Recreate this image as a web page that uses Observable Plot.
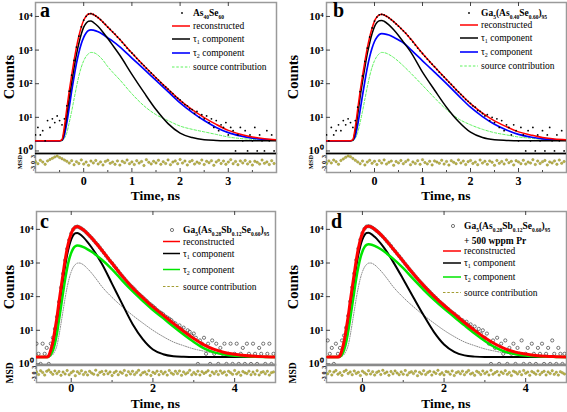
<!DOCTYPE html>
<html><head><meta charset="utf-8">
<script src="https://cdn.jsdelivr.net/npm/d3@7"></script>
<script src="https://cdn.jsdelivr.net/npm/@observablehq/plot@0.6"></script>
<style>
html,body{margin:0;padding:0;background:#fff;}
#root{position:relative;width:567px;height:412px;overflow:hidden;background:#fff;}
#root svg{position:absolute;}
</style></head><body><div id="root"></div>
<script>
// ---------- axis / tick values ----------
const yTickValues = [1, 10, 100, 1000, 10000];
const residTickValues = [-3, 0, 3];
const xMajorAB = [0, 1, 2, 3], xMinorAB = [-0.5, 0.5, 1.5, 2.5, 3.5];
const xMajorCD = [0, 2, 4], xMinorCD = [1, 3];
const supDigits = ["⁰", "¹", "²", "³", "⁴"];

// ---------- labels ----------
const sampleA = "As_{40}Se_{60}";
const sampleB = "Ga_{5}(As_{0.40}Se_{0.60})_{95}";
const sampleC = "Ga_{5}(As_{0.28}Sb_{0.12}Se_{0.60})_{95}";
const sampleD = "Ga_{5}(As_{0.28}Sb_{0.12}Se_{0.60})_{95}";
const dopantD = "+ 500 wppm Pr";
const seriesLabels = ["reconstructed", "τ_{1} component", "τ_{2} component", "source contribution"];

// ---------- model-curve time grids (ns) ----------
const curveTimesAB = [-1,-0.6,-0.5,-0.45,-0.4,-0.35,-0.3,-0.25,-0.2,-0.15,-0.1,-0.05,0,0.05,0.1,0.15,0.2,0.3,0.4,0.5,0.6,0.75,1,1.25,1.5,1.75,2,2.25,2.5,2.75,3,3.25,3.5,3.75,4];
const curveTimesCD = [-0.85,-0.6,-0.55,-0.5,-0.45,-0.4,-0.35,-0.3,-0.25,-0.2,-0.15,-0.1,-0.05,0,0.05,0.1,0.15,0.2,0.3,0.4,0.5,0.6,0.75,1,1.25,1.5,1.75,2,2.25,2.5,2.75,3,3.25,3.5,3.75,4,4.25,4.5,4.75,5];

// ---------- panel a curves (counts) ----------
const tau1A = [2,2,2,2.1,4,12,38,110,300,750,1600,3000,4800,6300,7200,7300,6700,5000,3400,2200,1400,700,190,55,17,6.5,3.4,2.5,2.15,2.05,2,2,2,2,2];
const tau2A = [2,2,2,2.1,3,7,20,60,160,400,850,1550,2400,3200,3800,4000,3900,3500,2900,2300,1850,1250,580,270,125,58,27,14,8,5,3.5,2.8,2.4,2.2,2.1];
const srcA  = [2,2,2,2,2.4,3.5,7,15,35,80,170,310,480,650,780,850,840,700,500,320,220,130,50,22,12,8,5.5,4.4,3.7,3.1,2.6,2.35,2.2,2.1,2.05];
const reconA = [2,2,2,2.2,5.4,18.5,61,181,491,1226,2616,4856,7676,10146,11776,12146,11436,9196,6796,4816,3466,2076,816,343,150,68.5,31.9,16.9,9.85,6.15,4.1,3.15,2.6,2.3,2.15];

// ---------- panel b curves ----------
const tau1B = [2,2,2,2.1,4,12,40,115,310,780,1650,3100,5000,6600,7500,7600,7200,5600,4000,2700,1750,900,220,65,20,7.5,3.6,2.5,2.15,2.05,2,2,2,2,2];
const tau2B = [2,2,2,2.1,2.8,6,16,45,120,300,640,1150,1800,2400,2900,3100,3050,2800,2400,2000,1650,1050,480,220,100,44,20,10.5,6.2,4.2,3.1,2.6,2.3,2.15,2.1];
const srcB  = [2,2,2,2,2.4,3.5,7,15,35,80,170,310,480,650,780,850,840,740,600,460,340,210,90,38,17,9,6,4.4,3.5,3,2.6,2.4,2.2,2.1,2.05];
const reconB = [2,2,2,2.2,5.2,17.5,59,171,461,1156,2456,4556,7276,9646,11176,11546,11086,9136,6996,5156,3736,2156,786,319,133,56.5,25.6,13.4,7.85,5.25,3.7,3.0,2.5,2.25,2.15];

// ---------- panel c curves ----------
const tau1C = [1.6,1.6,1.7,2.2,3.3,7,16,45,120,310,800,1750,3200,5000,6700,7700,7800,7300,5800,4200,2900,1900,950,240,60,15.5,5.5,2.7,1.95,1.7,1.63,1.6,1.6,1.6,1.6,1.6,1.6,1.6,1.6,1.6];
const tau2C = [1.6,1.6,1.65,1.9,2.5,4,8,20,50,130,320,700,1300,2000,2700,3150,3300,3250,2950,2550,2150,1750,1250,650,300,145,75,40,23,13,7.5,4.5,2.9,2.2,1.9,1.75,1.68,1.64,1.62,1.6];
const srcC  = [1.6,1.6,1.6,1.7,1.9,2.4,3.5,7,16,38,90,190,350,550,750,900,990,1000,880,680,500,350,200,95,50,28,16.5,10,6.5,4.5,3.5,2.8,2.4,2.1,1.9,1.8,1.7,1.65,1.62,1.6];
const reconC = [1.6,1.6,1.75,2.6,4.5,10.2,24,69,183,475,1207,2637,4847,7547,10147,11747,12087,11547,9627,7427,5547,4000,2400,982,407,185,94,49.5,28.3,16,9.4,5.7,3.7,2.7,2.2,1.95,1.78,1.69,1.64,1.6];

// ---------- panel d curves ----------
const tau1D = [1.6,1.6,1.7,2.2,3.3,7,16,45,120,310,800,1750,3200,5000,6700,7800,7900,7500,6000,4500,3200,2150,1100,330,95,28,9,3.8,2.3,1.8,1.65,1.6,1.6,1.6,1.6,1.6,1.6,1.6,1.6,1.6];
const tau2D = [1.6,1.6,1.65,1.9,2.6,4.3,9,22,55,140,350,760,1420,2200,2950,3450,3600,3550,3250,2800,2350,1900,1350,700,330,160,82,44,25,14,8,4.8,3.1,2.3,1.95,1.78,1.69,1.64,1.62,1.6];
const srcD  = [1.6,1.6,1.6,1.7,1.9,2.4,3.5,7,16,38,90,190,350,550,750,900,990,1000,880,680,500,350,200,95,50,28,16.5,10,6.5,4.5,3.5,2.8,2.4,2.1,1.9,1.8,1.7,1.65,1.62,1.6];
const reconD = [1.6,1.6,1.75,2.6,4.6,10.5,25.3,70.8,188,485,1237,2697,4967,7747,10397,12147,12487,12047,10127,7977,6047,4397,2647,1122,472,213,104,54.6,30.6,17.1,9.95,6.0,3.9,2.8,2.25,1.98,1.79,1.69,1.64,1.6];

// ---------- measured counts (channels every 0.05 ns) ----------
const channelStep = 0.05;
const startAB = -1, startCD = -0.85;
const countsA = [3,5,3,4,2,8,5,9,7,11,8,6,9,22,60,180,490,1230,2600,4900,
 7700,10100,11800,12100,11500,10400,9200,8000,6800,5800,4800,4100,3500,3000,2450,2080,1700,1400,1150,960,
 820,690,570,480,400,345,290,245,208,178,150,128,108,92,80,69,58,51,42,37,
 33,28,24,22,18,17,13,15,10,12,9,11,7,9,5,8,4,6,5,7,
 3,5,4,1,3,5,2,4,1,3,2,5,1,3,2,1,4,2,3,1];
const countsB = [3,2,5,3,4,6,4,8,6,9,7,5,8,20,58,170,460,1150,2450,4550,
 7300,9600,11200,11500,11100,10100,9100,8000,7000,6000,5150,4400,3750,3200,2650,2150,1750,1420,1150,950,
 790,650,540,450,380,320,265,220,185,158,133,112,95,80,66,57,48,41,34,30,
 26,22,20,16,15,13,11,12,8,10,7,9,5,8,4,6,5,3,6,4,
 2,5,3,1,4,2,5,1,3,2,4,1,3,5,2,1,3,2,4,1];
const countsC = [4,2,1,4,2,3,1,4,6,11,25,70,185,480,1200,2650,4850,7550,10100,11700,
 12100,11500,10600,9600,8500,7400,6400,5550,4750,4000,3450,2900,2400,2000,1650,1380,1160,990,830,700,
 580,480,410,345,290,250,215,190,165,140,122,108,96,84,74,64,58,52,46,40,
 36,33,30,26,24,22,20,17,16,13,14,11,12,8,10,9,7,8,6,1,
 5,4,6,2,4,1,5,2,4,1,3,2,4,1,2,4,1,2,4,1,
 2,3,1,4,2,1,4,2,1,3,2,4,1,2,4,1,2];
const countsD = [5,2,3,1,4,2,3,5,7,12,27,72,190,490,1240,2700,4950,7750,10400,12100,
 12500,12000,11100,10100,9000,7950,6950,6050,5200,4400,3800,3200,2650,2250,1900,1600,1340,1120,940,790,
 660,560,475,400,340,290,250,215,185,160,140,120,105,92,80,70,62,55,48,43,
 38,34,31,27,25,21,20,17,18,14,15,11,13,9,11,8,10,6,8,4,
 1,5,3,6,1,4,2,5,1,3,2,4,1,3,2,5,1,2,3,1,
 4,2,1,3,2,4,1,2,3,1,5,2,1,3,2,1,2];

// ---------- residuals (MSD) on the same channels ----------
const residA = [0.4,-0.6,1.1,0.2,-0.9,0.8,1.5,2.1,2.8,3.2,2.5,1.9,1.2,0.6,-0.3,0.9,-1.1,0.4,-0.5,1.3,-0.8,0.2,-1.4,0.7,-0.2,1.0,-0.7,0.3,-1.2,0.5,1.1,-0.4,0.2,-0.9,0.8,-1.3,0.6,-0.1,1.2,-0.6,0.3,-1.0,0.9,-0.3,0.5,-1.5,1.4,0.1,-0.7,0.6,-0.2,1.1,-0.9,0.4,-0.5,1.3,-1.1,0.2,0.8,-0.6,1.5,-0.3,0.7,-1.2,0.4,1.0,-0.8,0.2,-0.4,1.2,-1.0,0.6,-0.1,0.9,-1.4,0.3,1.1,-0.5,0.7,-0.9,0.2,1.4,-0.6,0.5,-1.1,0.8,-0.2,1.0,-0.7,0.4,-1.3,0.6,0.1,-0.8,1.2,-0.4,0.3,-1.0,0.9,-0.5];
const residB = [-0.5,0.8,-0.2,1.2,0.4,-0.9,1.0,1.8,2.6,3.3,2.9,2.0,1.1,0.3,-0.6,0.7,-1.2,0.2,1.1,-0.4,0.6,-1.0,0.9,-0.3,1.3,-0.8,0.1,0.7,-1.4,0.5,-0.2,1.0,-0.6,0.4,1.2,-1.1,0.3,-0.5,0.9,-0.9,1.4,0.0,-0.7,0.6,-1.2,0.8,0.2,-0.4,1.1,-0.8,0.5,-1.3,0.9,0.1,-0.6,1.3,-0.2,0.7,-1.0,0.4,1.0,-0.5,0.2,-1.1,1.2,-0.3,0.6,-0.9,0.8,0.1,-1.4,1.0,-0.4,0.5,-0.7,1.3,-0.1,0.6,-1.2,0.9,0.3,-0.6,1.1,-0.8,0.2,-0.3,1.4,-1.0,0.7,-0.5,0.4,1.0,-1.2,0.3,-0.2,0.8,-0.9,1.2,-0.4,0.5];
const residC = [0.6,-0.8,1.2,0.3,-1.1,0.9,1.6,0.4,-0.7,1.1,-0.3,0.8,-1.2,0.5,-0.5,1.3,-0.9,0.2,1.0,-1.4,0.7,-0.2,1.2,-0.8,0.4,-1.0,0.9,0.0,-0.6,1.5,-1.1,0.3,0.8,-0.7,1.1,-0.4,0.6,-1.3,0.2,1.0,-0.9,0.5,-0.1,1.3,-1.2,0.7,-0.5,0.9,-0.8,0.3,1.4,-1.0,0.1,0.6,-0.6,1.2,-1.3,0.4,-0.2,1.0,-0.9,0.8,-0.4,0.5,-1.1,1.3,0.0,-0.7,0.9,-0.3,1.1,-1.2,0.6,-0.5,0.2,1.4,-0.9,0.3,-0.6,1.0,-1.0,0.7,-0.2,0.4,1.2,-1.3,0.5,-0.4,0.8,-0.8,1.1,-0.1,0.6,-1.1,0.9,0.2,-0.7,1.3,-0.5,0.4,-1.2,0.8,0.1,-0.3,1.0,-0.9,0.5,-0.6,1.2,-1.0,0.3,0.7,-0.4,0.9,-1.1,0.2,0.6];
const residD = [-0.4,0.9,-1.0,0.5,1.3,-0.6,0.2,-1.2,0.8,1.5,-0.3,0.6,-0.9,1.1,-0.2,0.4,-1.3,1.0,0.1,-0.7,1.2,-0.5,0.7,-1.1,0.3,0.9,-0.8,1.4,-0.1,0.5,-1.2,0.8,-0.4,1.1,0.0,-0.9,0.6,-0.6,1.3,-1.0,0.2,0.7,-0.3,1.0,-1.4,0.4,-0.5,1.2,-0.8,0.3,0.9,-1.1,0.6,-0.2,1.4,-0.7,0.1,-1.0,0.8,0.5,-0.6,1.1,-1.3,0.2,0.7,-0.4,1.0,-0.9,0.4,1.3,-0.5,0.0,-1.2,0.9,0.3,-0.8,1.1,-0.3,0.6,-1.0,1.4,-0.6,0.2,0.8,-1.1,0.5,-0.2,1.2,-0.7,0.3,-1.3,1.0,0.4,-0.5,0.7,-0.9,1.3,-0.1,0.5,-1.2,0.8,0.2,-0.6,1.1,-0.8,0.3,0.9,-1.0,0.6,-0.3,1.2,-0.7,0.4,-1.1,0.7,0.1,-0.5];

// ---------- layout / styling (not data) ----------
const FONT = "'Liberation Serif','Times New Roman',serif";
const swAB = [{color:"#ff0000",width:1.5},{color:"#000",width:1.5},{color:"#0000ff",width:1.6},{color:"#5cf25c",width:1,dash:"2.5,1.8"}];
const swCD = [{color:"#ff0000",width:1.5},{color:"#000",width:1.5},{color:"#00e600",width:1.5},{color:"#a39d33",width:1.1,dash:"2.5,1.8"}];

const panels = [
 {letter:"a", kind:"ab", svgLeft:0, frameL:35, frameR:276, mainTop:2, mainBot:153, resBot:172, xDomain:[-1,4], yDomain:[0.84,26000],
  xMajor:xMajorAB, xMinor:xMinorAB, grid:curveTimesAB, tau1:tau1A, tau2:tau2A, src:srcA, recon:reconA, start:startAB, counts:countsA, resid:residA,
  sample:sampleA, extra:null, sw:swAB, tau2Color:"#0000ff", xPad:4,
  lg:{x0:172,x1:190,tx:193,mx:182,rows:[16,29,42,56,70]},
  letterPos:[40,17], countsPos:[9,77], timePos:[155.5,200], msdPos:[20,162], msdSize:6.5},
 {letter:"b", kind:"ab", svgLeft:283, frameL:326, frameR:566, mainTop:2, mainBot:153, resBot:172, xDomain:[-1,4], yDomain:[0.84,26000],
  xMajor:xMajorAB, xMinor:xMinorAB, grid:curveTimesAB, tau1:tau1B, tau2:tau2B, src:srcB, recon:reconB, start:startAB, counts:countsB, resid:residB,
  sample:sampleB, extra:null, sw:swAB, tau2Color:"#0000ff", xPad:4,
  lg:{x0:460,x1:478,tx:481,mx:469,rows:[16,28,41,55,69]},
  letterPos:[333,17], countsPos:[293,77], timePos:[446,200], msdPos:[311,162], msdSize:6.5},
 {letter:"c", kind:"cd", svgLeft:0, frameL:36, frameR:275, mainTop:210.5, mainBot:364, resBot:382, xDomain:[-0.85,5], yDomain:[0.93,34000],
  xMajor:xMajorCD, xMinor:xMinorCD, grid:curveTimesCD, tau1:tau1C, tau2:tau2C, src:srcC, recon:reconC, start:startCD, counts:countsC, resid:residC,
  sample:sampleC, extra:null, sw:swCD, tau2Color:"#00e600", xPad:1,
  lg:{x0:163,x1:180,tx:183,mx:172,rows:[233,244.5,256.5,272.5,289.5]},
  letterPos:[40,228], countsPos:[9,287], timePos:[155.5,408], msdPos:[10,373], msdSize:9.5},
 {letter:"d", kind:"cd", svgLeft:283, frameL:326, frameR:566, mainTop:210.5, mainBot:364, resBot:382, xDomain:[-0.88,5], yDomain:[0.93,34000],
  xMajor:xMajorCD, xMinor:xMinorCD, grid:curveTimesCD, tau1:tau1D, tau2:tau2D, src:srcD, recon:reconD, start:startCD, counts:countsD, resid:residD,
  sample:sampleD, extra:dopantD, sw:swCD, tau2Color:"#00e600", xPad:1,
  lg:{x0:443,x1:461,tx:464,mx:453,rows:[229,243.5,254,266,280,295.5]},
  letterPos:[331,228], countsPos:[293,287], timePos:[446,408], msdPos:[293,373], msdSize:9.5}
];

const root = document.getElementById("root");
const baseStyle = {fontFamily: FONT, fontWeight: "bold", overflow: "visible", background: "transparent", maxWidth: "none"};

function place(svg, left, top) { svg.style.left = left + "px"; svg.style.top = top + "px"; root.appendChild(svg); }

function build(p) {
  const frameW = p.frameR - p.frameL;
  const mainH = p.mainBot - p.mainTop;
  const resH = p.resBot - p.mainBot;
  const W = p.frameR - p.svgLeft + 4;
  const curve = vals => p.grid.map((t, i) => ({t, v: vals[i]}));
  const data = p.counts.map((v, i) => ({t: p.start + i * channelStep, v}));
  const resid = p.resid.map((v, i) => ({t: p.start + i * channelStep, v})).filter(d => d.t <= p.xDomain[1]);
  const common = {width: W, marginLeft: p.frameL - p.svgLeft, marginRight: 4, marginTop: 0, style: baseStyle};
  const L = {x: "t", y: "v", curve: "monotone-x", clip: true};

  const dataMarks = p.kind === "ab" ? [
    Plot.line(curve(p.src), {...L, stroke: "#5cf25c", strokeWidth: 1, strokeDasharray: "2.5,1.8"}),
    Plot.line(curve(p.tau2), {...L, stroke: p.tau2Color, strokeWidth: 1.7}),
    Plot.line(curve(p.tau1), {...L, stroke: "#000", strokeWidth: 1.5}),
    Plot.line(curve(p.recon), {...L, stroke: "#ff0000", strokeWidth: 1.5}),
    Plot.dot(data, {x: "t", y: "v", r: 0.9, fill: "#000", stroke: "none", clip: true})
  ] : [
    Plot.dot(data, {x: "t", y: "v", r: 1.6, fill: "none", stroke: "#222", strokeWidth: 0.6, clip: true}),
    Plot.line(curve(p.src), {...L, stroke: "#7a7a7a", strokeWidth: 0.9, strokeDasharray: "1,1.4"}),
    Plot.line(curve(p.tau1), {...L, stroke: "#000", strokeWidth: 2}),
    Plot.line(curve(p.tau2), {...L, stroke: p.tau2Color, strokeWidth: 2.5}),
    Plot.line(curve(p.recon), {...L, stroke: "#ff0000", strokeWidth: 3})
  ];

  const residPlot = Plot.plot({
    ...common, height: resH + 24, marginBottom: 24,
    x: {domain: p.xDomain, label: null}, y: {domain: [-5, 4.5], label: null},
    marks: [
      Plot.frame({stroke: "#9a9a9a", strokeWidth: 1.5}),
      Plot.dot(resid, {x: "t", y: "v", r: 1.25, fill: "#bdb548", stroke: "#858230", strokeWidth: 0.4, clip: true}),
      Plot.tickX(p.xMajor, {x: d => d, insetTop: resH - 4, stroke: "#444"}),
      Plot.tickX(p.xMinor, {x: d => d, insetTop: resH - 2, stroke: "#444"}),
      Plot.axisX({ticks: p.xMajor, tickFormat: d => String(d), tickSize: 0, tickPadding: p.xPad, fontSize: 12, label: null}),
      Plot.axisY({ticks: residTickValues, tickFormat: d => String(d), tickSize: 0, tickPadding: 1, tickRotate: -90, fontSize: 6, label: null})
    ]
  });
  place(residPlot, p.svgLeft, p.mainBot);

  const mainPlot = Plot.plot({
    ...common, height: mainH, marginBottom: 0,
    x: {domain: p.xDomain, axis: null},
    y: {type: "log", domain: p.yDomain, label: null},
    marks: [
      Plot.frame({stroke: "#9a9a9a", strokeWidth: 1.5}),
      ...dataMarks,
      Plot.tickX(p.xMajor, {x: d => d, insetBottom: mainH - 4, stroke: "#444"}),
      Plot.tickY(yTickValues, {y: d => d, insetRight: frameW - 4, stroke: "#444"}),
      Plot.ruleY([p.yDomain[0]], {stroke: p.kind === "ab" ? "#000" : "#8a8a8a", strokeWidth: p.kind === "ab" ? 1.5 : 2.5}),
      Plot.axisY({ticks: yTickValues, tickFormat: d => "10" + supDigits[Math.round(Math.log10(d))], tickSize: 0, tickPadding: 3, fontSize: 11, label: null})
    ]
  });
  place(mainPlot, p.svgLeft, p.mainTop);
}

function rich(s, subSize, shift) {
  const parts = s.split(/(_\{[^}]*\})/).filter(x => x);
  let cur = 0, out = "";
  for (const q of parts) {
    if (q.startsWith("_{")) { out += `<tspan dy="${shift - cur}" font-size="${subSize}">${q.slice(2, -1)}</tspan>`; cur = shift; }
    else { out += `<tspan dy="${-cur}">${q}</tspan>`; cur = 0; }
  }
  return out;
}

function overlay() {
  let s = "";
  for (const p of panels) {
    const g = p.lg;
    s += `<text x="${p.letterPos[0]}" y="${p.letterPos[1]}" font-size="20" font-weight="bold">${p.letter}</text>`;
    s += `<text transform="translate(${p.countsPos[0]},${p.countsPos[1]}) rotate(-90)" text-anchor="middle" dy="0.35em" font-size="14.5" font-weight="bold">Counts</text>`;
    s += `<text x="${p.timePos[0]}" y="${p.timePos[1]}" text-anchor="middle" font-size="13.5" font-weight="bold">Time, ns</text>`;
    s += `<text transform="translate(${p.msdPos[0]},${p.msdPos[1]}) rotate(-90)" text-anchor="middle" dy="0.35em" font-size="${p.msdSize}" font-weight="bold">MSD</text>`;
    const rows = g.rows;
    s += p.kind === "ab"
      ? `<circle cx="${g.mx}" cy="${rows[0] - 3}" r="0.9" fill="#000"/>`
      : `<circle cx="${g.mx}" cy="${rows[0] - 3}" r="1.6" fill="none" stroke="#222" stroke-width="0.6"/>`;
    s += `<text x="${g.tx}" y="${rows[0]}" font-size="9.5" font-weight="bold">${rich(p.sample, 5.5, 2.5)}</text>`;
    let k = 1;
    if (p.extra) { s += `<text x="${g.tx}" y="${rows[1]}" font-size="9.5" font-weight="bold">${p.extra}</text>`; k = 2; }
    p.sw.forEach((w, i) => {
      const y = rows[k + i];
      s += `<line x1="${g.x0}" x2="${g.x1}" y1="${y - 3}" y2="${y - 3}" stroke="${w.color}" stroke-width="${w.width}"${w.dash ? ` stroke-dasharray="${w.dash}"` : ""}/>`;
      s += `<text x="${g.tx}" y="${y}" font-size="9.5">${rich(seriesLabels[i], 6, 2)}</text>`;
    });
  }
  const ns = "http://www.w3.org/2000/svg";
  const svg = document.createElementNS(ns, "svg");
  svg.setAttribute("width", 567); svg.setAttribute("height", 412);
  svg.setAttribute("font-family", "Liberation Serif, Times New Roman, serif");
  svg.style.left = "0px"; svg.style.top = "0px"; svg.style.pointerEvents = "none";
  svg.innerHTML = s;
  root.appendChild(svg);
}

panels.forEach(build);
overlay();
</script></body></html>
